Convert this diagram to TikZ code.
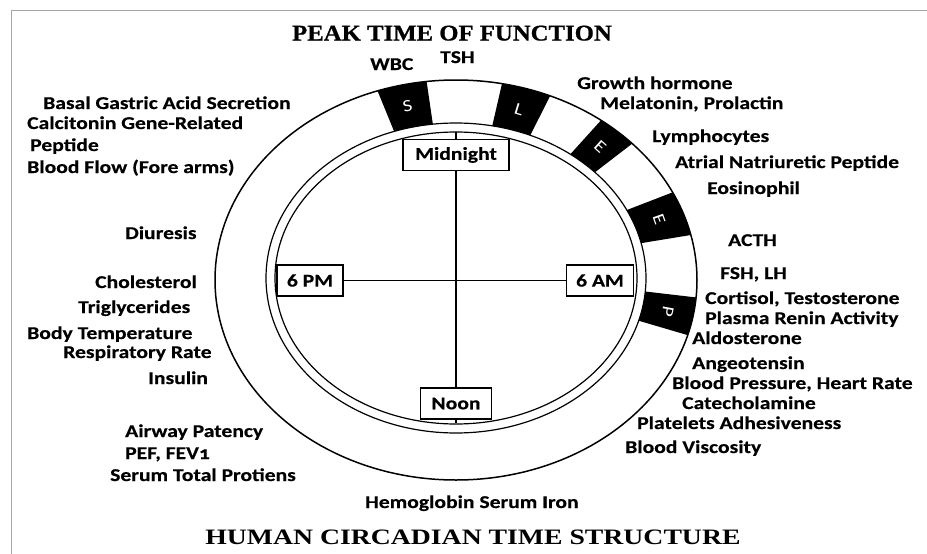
\documentclass[tikz,border=0pt]{standalone}
\usepackage{fontspec}
\newfontfamily\lblfont{Carlito}[FakeStretch=1.2, BoldFeatures={FakeBold=0.4}]
\newfontfamily\ttlfont{Liberation Serif}[FakeStretch=1.1, BoldFeatures={FakeBold=0.8}]
\newfontfamily\subttlfont{Liberation Serif}[FakeStretch=1.26]
\newcommand{\lowone}{{\addfontfeature{Numbers=OldStyle}1}}

\begin{document}
\begin{tikzpicture}[
    x=1pt, y=-1pt,
    lbl/.style={font=\lblfont\bfseries\fontsize{18}{20}\selectfont, inner sep=0pt, anchor=base west},
    timebox/.style={draw, line width=1.2pt, fill=white, inner sep=0pt, minimum height=31pt, font=\lblfont\bfseries\fontsize{18}{20}\selectfont},
    ring/.style={line width=1.5pt},
    axis/.style={line width=1.2pt},
    blockletter/.style={text=white, inner sep=0pt, font=\lblfont\fontsize{17}{17}\selectfont},
]
    \useasboundingbox (0,0) rectangle (927,554);
    % frame of the figure
    \draw[gray!70, line width=0.8pt] (11,10) rectangle (945,575);

    % titles
    \node[font=\ttlfont\bfseries\fontsize{22.5}{24}\selectfont, inner sep=0pt, anchor=base] (peak) at (452,40.5) {PEAK TIME OF FUNCTION};
    \node[font=\subttlfont\bfseries\fontsize{22}{24}\selectfont, inner sep=0pt, anchor=base] (human) at (473,544.5) {HUMAN CIRCADIAN TIME STRUCTURE};

    % rings
    \draw[ring] (456,280) ellipse [x radius=241, y radius=200];
    \draw[axis] (456,278) ellipse [x radius=190, y radius=155];
    \draw[axis] (456,278) ellipse [x radius=181, y radius=146];

    % black blocks across the ring
    \foreach \a/\b/\ltr in {97/109/S, 67/79/L, 43/53/E, 13/26/E, -16/-5/P} {
        \fill[black] plot[domain=\a:\b, samples=12] ({456+241*cos(\x)}, {280-200*sin(\x)})
            -- plot[domain=\b:\a, samples=12] ({456+190*cos(\x)}, {278-155*sin(\x)}) -- cycle;
        \pgfmathsetmacro{\m}{(\a+\b)/2}
        \node[blockletter, rotate=\m-90] (blk\ltr\a) at ({456+215.5*cos(\m)}, {279-177.5*sin(\m)}) {\ltr};
    }

    % clock boxes
    \node[timebox, minimum width=106pt] (mid) at (456,155) {Midnight};
    \node[timebox, minimum width=66pt] (pm) at (310,280.5) {6 PM};
    \node[timebox, minimum width=67pt] (am) at (600,280.5) {6 AM};
    \node[timebox, minimum width=71pt] (noon) at (456,403.5) {Noon};
    \coordinate (ctop) at (456,132);
    \coordinate (cbot) at (456,423);
    \draw[axis] (mid) -- (noon);
    \draw[axis] (pm) -- (am);
    \draw[axis] (mid) -- (ctop);
    \draw[axis] (noon) -- (cbot);

    % labels round the clock
    \foreach \x/\y/\t [count=\i] in {
        43/109/{Basal Gastric Acid Secretion},
        27/129/{Calcitonin Gene-Related},
        30/151/{Peptide},
        27/173/{Blood Flow (Fore arms)},
        125/239/{Diuresis},
        95/288/{Cholesterol},
        78/313/{Triglycerides},
        27/339/{Body Temperature},
        63/358/{Respiratory Rate},
        148/384/{Insulin},
        125/437/{Airway Patency},
        125/459/{PEF, FEV\lowone},
        110/481/{Serum Total Protiens},
        365/508/{Hemoglobin Serum Iron},
        370/70/{WBC},
        440/63/{TSH},
        577/89/{Growth hormone},
        600/109/{Melatonin, Prolactin},
        652/142/{Lymphocytes},
        675/168/{Atrial Natriuretic Peptide},
        707/194/{Eosinophil},
        728/246/{ACTH},
        720/279/{FSH, LH},
        705/304/{Cortisol, Testosterone},
        705/324/{Plasma Renin Activity},
        692/344/{Aldosterone},
        692/369/{Angeotensin},
        672/389/{Blood Pressure, Heart Rate},
        682/409/{Catecholamine},
        637/429/{Platelets Adhesiveness},
        625/453/{Blood Viscosity}} {
        \node[lbl] (lbl\i) at (\x,\y) {\t};
    }
\end{tikzpicture}
\end{document}
